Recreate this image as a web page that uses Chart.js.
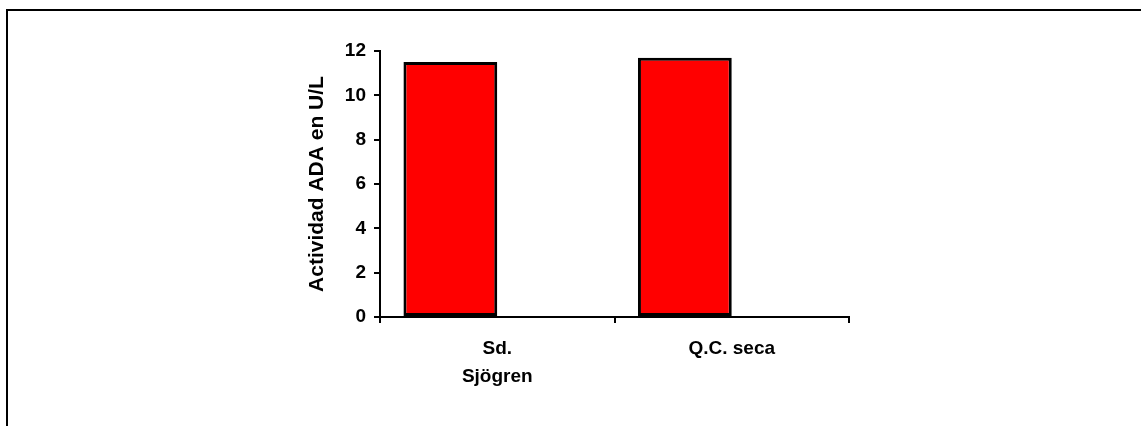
<!DOCTYPE html>
<html>
<head>
<meta charset="utf-8">
<script src="https://cdn.jsdelivr.net/npm/chart.js@4/dist/chart.umd.min.js"></script>
<style>
  html, body { margin: 0; padding: 0; background: #fff; overflow: hidden; }
  #frame {
    position: absolute; left: 6px; top: 9px; width: 2000px; height: 2000px;
    border-left: 2px solid #000; border-top: 2px solid #000;
  }
  #wrap { position: absolute; left: 0; top: 0; width: 1141px; height: 426px; }
</style>
</head>
<body>
<div id="frame"></div>
<div id="wrap"><canvas id="chart" width="1141" height="426"></canvas></div>
<script>
// Datos
const categorias = [["Sd.", "Sjögren"], "Q.C. seca"];
const actividadADA = [11.5, 11.7];
const serieVacia = [null, null]; // segunda serie sin valores (desplaza las barras)
const ticksY = [0, 2, 4, 6, 8, 10, 12];

const fuente = { family: "'Liberation Sans', Arial, sans-serif", size: 19, weight: "bold" };

document.addEventListener("DOMContentLoaded", () => {
  const ctx = document.getElementById('chart').getContext('2d');
  new Chart(ctx, {
    type: 'bar',
    data: {
      labels: categorias,
      datasets: [
        {
          label: 'Actividad ADA',
          data: actividadADA,
          backgroundColor: '#ff0000',
          borderColor: '#000',
          borderWidth: 3,
          borderSkipped: false
        },
        {
          label: '',
          data: serieVacia,
          backgroundColor: '#ff0000'
        }
      ]
    },
    options: {
      responsive: false,
      animation: false,
      categoryPercentage: 0.8,
      barPercentage: 1.0,
      layout: { padding: { left: 300, top: 51, right: 292, bottom: 0 } },
      plugins: { legend: { display: false }, tooltip: { enabled: false } },
      scales: {
        x: {
          grid: { display: true, drawOnChartArea: false, offset: true, tickLength: 6, color: '#000', lineWidth: 2 },
          border: { color: '#000', width: 2 },
          ticks: { color: '#000', font: { ...fuente, lineHeight: 1.45 }, padding: 12, maxRotation: 0 },
          afterFit: (scale) => { scale.height = 109; }
        },
        y: {
          min: ticksY[0],
          max: ticksY[ticksY.length - 1],
          afterBuildTicks: (scale) => { scale.ticks = ticksY.map(v => ({ value: v })); },
          grid: { display: true, drawOnChartArea: false, tickLength: 6, color: '#000', lineWidth: 2 },
          border: { color: '#000', width: 2 },
          ticks: { color: '#000', font: fuente, padding: 8 },
          title: {
            display: true,
            text: 'Actividad ADA en U/L',
            color: '#000',
            font: { ...fuente, size: 21 },
            padding: { top: 5, bottom: 0 }
          },
          afterFit: (scale) => { scale.width = 80; }
        }
      }
    }
  });
});
</script>
</body>
</html>
